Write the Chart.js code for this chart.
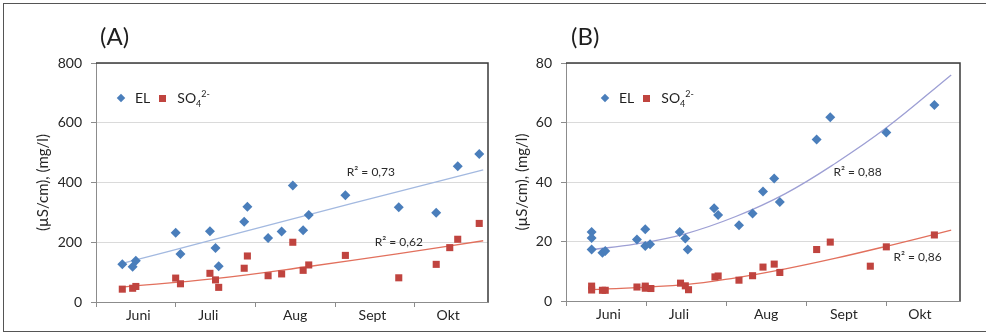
<!DOCTYPE html>
<html>
<head>
<meta charset="utf-8">
<script src="https://cdn.jsdelivr.net/npm/chart.js@4.4.1/dist/chart.umd.min.js"></script>
<style>
  html, body { margin: 0; padding: 0; background: #fff; }
  body { width: 986px; height: 335px; position: relative; overflow: hidden; font-family: Lato, 'Open Sans', sans-serif; color: #1f1f1f; }
  .frame { position: absolute; left: 3px; top: 3px; width: 1000px; height: 329px; border: 1.5px solid #555; border-right: none; box-sizing: border-box; }
  .panel { position: absolute; top: 0; width: 493px; height: 335px; }
  .tag { position: absolute; top: 22px; font-size: 24px; line-height: 28px; }
  .legend { position: absolute; top: 88px; height: 20px; display: flex; align-items: center; font-size: 14px; line-height: 20px; white-space: nowrap; }
  .legend .dia { width: 6px; height: 6px; transform: rotate(45deg); margin-right: 11px; }
  .legend .sq { width: 7px; height: 7px; margin-left: 9px; margin-right: 11px; }
  .legend sub, .legend sup { font-size: 9px; line-height: 0; }
</style>
</head>
<body>
<div class="frame"></div>
<div class="panel" style="left:0"><canvas id="chartA"></canvas></div>
<div class="panel" style="left:493px"><canvas id="chartB"></canvas></div>
<div class="tag" style="left:100px">(A)</div>
<div class="tag" style="left:571px">(B)</div>
<div class="legend" id="legA" style="left:118px"></div>
<div class="legend" id="legB" style="left:602px"></div>

<script>
// x values are in months from 1 June (0 = 1 June, 1 = 1 July, ...)
const monthNames = ['Juni', 'Juli', 'Aug', 'Sept', 'Okt'];
const monthTickPos = [0.53, 1.41, 2.5, 3.47, 4.42];
const monthBounds = [0, 1, 2, 3, 4];
const seriesNames = ['EL', 'SO<sub>4</sub><sup>2-</sup>'];

// (A)
const aElX = [0.33, 0.46, 0.50, 1.00, 1.06, 1.43, 1.50, 1.54, 1.86, 1.90, 2.16, 2.33, 2.47, 2.60, 2.67, 3.13, 3.80, 4.27, 4.54, 4.81];
const aEl = [126, 118, 138, 232, 161, 237, 181, 120, 269, 319, 214, 236, 390, 240, 291, 357, 317, 299, 454, 495];
const aSoX = [0.33, 0.46, 0.50, 1.00, 1.06, 1.43, 1.50, 1.54, 1.86, 1.90, 2.16, 2.33, 2.47, 2.60, 2.67, 3.13, 3.80, 4.27, 4.44, 4.54, 4.81];
const aSo = [43, 46, 52, 80, 61, 96, 74, 49, 113, 154, 88, 94, 200, 106, 124, 156, 81, 126, 182, 210, 263];
const aElTrendX = [0.33, 1.45, 2.65, 3.78, 4.86];
const aElTrend = [129, 207, 291, 369, 442];
const aSoTrendX = [0.33, 1.49, 2.65, 3.78, 4.86];
const aSoTrend = [50, 78, 118, 161, 205];
const aR2Text = ['R² = 0,73', 'R² = 0,62'];
const aR2At = [[3.45, 435], [3.8, 202]];

// (B)
const bElX = [0.32, 0.32, 0.32, 0.455, 0.49, 0.886, 0.99, 0.99, 1.05, 1.42, 1.49, 1.52, 1.85, 1.90, 2.16, 2.33, 2.46, 2.60, 2.67, 3.13, 3.30, 4.00, 4.60];
const bEl = [23.2, 21.2, 17.3, 16.2, 16.8, 20.7, 24.1, 18.5, 19.1, 23.2, 21.0, 17.3, 31.2, 28.9, 25.5, 29.4, 36.8, 41.2, 33.3, 54.3, 61.8, 56.6, 65.9];
const bSoX = [0.32, 0.32, 0.455, 0.49, 0.886, 0.99, 0.99, 1.06, 1.43, 1.49, 1.53, 1.86, 1.90, 2.16, 2.33, 2.46, 2.60, 2.67, 3.13, 3.30, 3.80, 4.00, 4.60];
const bSo = [5.0, 3.7, 3.6, 3.6, 4.7, 5.0, 4.3, 4.2, 6.0, 5.1, 3.8, 8.1, 8.4, 7.0, 8.5, 11.4, 12.4, 9.6, 17.3, 19.8, 11.7, 18.2, 22.2];
const bElTrendX = [0.32, 0.86, 1.49, 2.12, 2.74, 3.37, 4.00, 4.81];
const bElTrend = [17.3, 19.1, 22.6, 28.4, 36.1, 46.4, 58.2, 76.0];
const bSoTrendX = [0.32, 1.49, 2.12, 2.74, 3.37, 4.00, 4.81];
const bSoTrend = [3.8, 5.5, 7.8, 10.8, 14.4, 18.4, 23.8];
const bR2Text = ['R² = 0,88', 'R² = 0,86'];
const bR2At = [[3.64, 43.4], [4.39, 14.8]];

const EL_COLOR = '#4a7ebb';
const SO_COLOR = '#c0443f';
const FONT = 'Lato, "Open Sans", sans-serif';

const pts = (xs, ys) => xs.map((x, i) => ({ x, y: ys[i] }));

// plot frame (top + right) and R² labels
const framePlugin = {
  id: 'frame',
  afterDatasetsDraw(chart, args, opts) {
    const { ctx, chartArea: a, scales: { x, y } } = chart;
    ctx.save();
    ctx.font = '12px ' + FONT;
    ctx.fillStyle = '#2b2b2b';
    ctx.textAlign = 'center';
    ctx.textBaseline = 'middle';
    opts.text.forEach((t, i) => ctx.fillText(t, x.getPixelForValue(opts.at[i][0]), y.getPixelForValue(opts.at[i][1])));
    ctx.strokeStyle = '#3a3a3a';
    ctx.lineWidth = 1.5;
    ctx.beginPath();
    ctx.moveTo(a.left, a.top);
    ctx.lineTo(a.right, a.top);
    ctx.lineTo(a.right, a.bottom);
    ctx.stroke();
    ctx.restore();
  }
};

function buildPanel(id, p) {
  return new Chart(document.getElementById(id), {
    type: 'scatter',
    data: {
      datasets: [
        { label: 'EL', data: pts(p.elX, p.el), pointStyle: 'rectRot', pointRadius: 5, pointHoverRadius: 5,
          backgroundColor: EL_COLOR, borderColor: EL_COLOR, borderWidth: 0, order: 1 },
        { label: 'SO4', data: pts(p.soX, p.so), pointStyle: 'rect', pointRadius: 5, pointHoverRadius: 5,
          backgroundColor: SO_COLOR, borderColor: SO_COLOR, borderWidth: 0, order: 1 },
        { label: 'EL trend', data: pts(p.elTX, p.elT), showLine: true, pointRadius: 0, borderColor: p.elTrendColor,
          borderWidth: 1.3, tension: 0.4, order: 2 },
        { label: 'SO4 trend', data: pts(p.soTX, p.soT), showLine: true, pointRadius: 0, borderColor: '#e2705d',
          borderWidth: 1.3, tension: 0.4, order: 2 }
      ]
    },
    options: {
      responsive: true,
      maintainAspectRatio: false,
      animation: false,
      layout: { padding: { left: 0, top: 63, right: p.padRight, bottom: 0 } },
      plugins: {
        legend: { display: false },
        tooltip: { enabled: false },
        frame: { text: p.r2Text, at: p.r2At }
      },
      scales: {
        x: {
          type: 'linear', min: 0, max: 4.92,
          afterBuildTicks: (s) => { s.ticks = monthBounds.concat(monthTickPos).sort((a, b) => a - b).map(v => ({ value: v })); },
          afterFit: (s) => { s.height = p.xHeight; },
          ticks: {
            autoSkip: false, maxRotation: 0, minRotation: 0, padding: 0, color: '#262626',
            font: { family: FONT, size: 14 },
            callback: (v) => { const i = monthTickPos.indexOf(v); return i >= 0 ? monthNames[i] : ''; }
          },
          grid: {
            drawOnChartArea: false, tickLength: 5,
            color: (c) => (c.tick && Number.isInteger(c.tick.value) ? '#8c8c8c' : 'rgba(0,0,0,0)')
          },
          border: { color: '#8c8c8c' }
        },
        y: {
          min: 0, max: p.yMax,
          afterFit: (s) => { s.width = p.yWidth; },
          ticks: { stepSize: p.yStep, padding: 9, color: '#262626', font: { family: FONT, size: 14 } },
          grid: { color: '#dadada', tickColor: '#8c8c8c', tickLength: 5 },
          border: { color: '#8c8c8c' },
          title: { display: true, text: '(µS/cm), (mg/l)', color: '#262626', font: { family: FONT, size: 15 }, padding: { top: p.titlePad, bottom: 0 } }
        }
      }
    },
    plugins: [framePlugin]
  });
}

function buildLegend(id) {
  const el = document.getElementById(id);
  el.innerHTML =
    '<span class="dia" style="background:' + EL_COLOR + '"></span><span>' + seriesNames[0] + '</span>' +
    '<span class="sq" style="background:' + SO_COLOR + '"></span><span>' + seriesNames[1] + '</span>';
}

buildPanel('chartA', {
  elX: aElX, el: aEl, soX: aSoX, so: aSo,
  elTX: aElTrendX, elT: aElTrend, soTX: aSoTrendX, soT: aSoTrend,
  elTrendColor: '#a3b9e0', r2Text: aR2Text, r2At: aR2At,
  yMax: 800, yStep: 200, yWidth: 96, xHeight: 33, padRight: 3, titlePad: 34
});
buildPanel('chartB', {
  elX: bElX, el: bEl, soX: bSoX, so: bSo,
  elTX: bElTrendX, elT: bElTrend, soTX: bSoTrendX, soT: bSoTrend,
  elTrendColor: '#9d9fd4', r2Text: bR2Text, r2At: bR2At,
  yMax: 80, yStep: 20, yWidth: 73, xHeight: 34, padRight: 26, titlePad: 20
});
buildLegend('legA');
buildLegend('legB');
</script>
</body>
</html>
